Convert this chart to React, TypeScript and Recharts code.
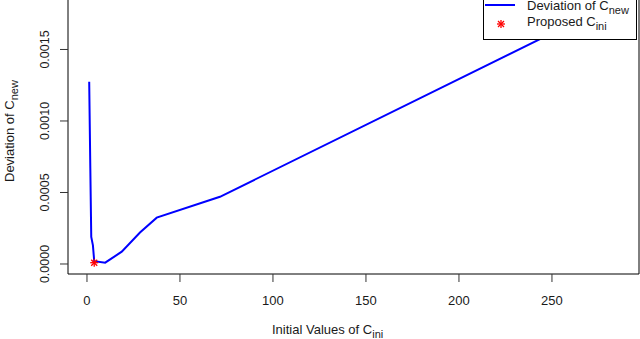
import React from 'react';
import { ComposedChart, Line, Scatter, XAxis, YAxis, Legend } from 'recharts';

// deviation curve
const initValues = [1.2, 1.8, 2.3, 3.2, 3.9, 9.8, 18.7, 28.5, 37.5, 71.5, 290];
const deviations = [0.001275, 0.00067, 0.00019, 0.00013, 0.00002, 0.000009, 0.000086, 0.00022, 0.000324, 0.00047, 0.00187];

// proposed starting value
const proposedX = [3.9];
const proposedY = [0.000009];

const xTicks = [0, 50, 100, 150, 200, 250];
const yTicks = [0, 0.0005, 0.001, 0.0015];

const lineData = initValues.map((x, i) => ({ x, y: deviations[i] }));
const starData = proposedX.map((x, i) => ({ x, y: proposedY[i] }));

const FONT = '"Liberation Sans", Arial, sans-serif';
const INK = '#1a1a1a';

const Asterisk = ({ cx, cy }: any) => (
  <g stroke="#ff0000" strokeWidth={1.3}>
    <line x1={cx - 4} y1={cy} x2={cx + 4} y2={cy} />
    <line x1={cx} y1={cy - 4} x2={cx} y2={cy + 4} />
    <line x1={cx - 3} y1={cy - 3} x2={cx + 3} y2={cy + 3} />
    <line x1={cx - 3} y1={cy + 3} x2={cx + 3} y2={cy - 3} />
  </g>
);

const XTick = ({ x, payload }: any) => (
  <text x={x} y={305} textAnchor="middle" fontSize={13} fontFamily={FONT} fill={INK}>
    {payload.value}
  </text>
);

const YTick = ({ y, payload }: any) => (
  <text
    x={45}
    y={y}
    dy={4.5}
    transform={`rotate(-90, 45, ${y})`}
    textAnchor="middle"
    fontSize={12.5}
    fontFamily={FONT}
    fill={INK}
  >
    {Number(payload.value).toFixed(4)}
  </text>
);

const LegendBox = () => (
  <svg width={156} height={44} style={{ display: 'block' }}>
    <rect x={0.5} y={0.5} width={153} height={40} fill="#fff" stroke="#000" />
    <line x1={2} y1={6} x2={32} y2={6} stroke="#0000ff" strokeWidth={2} />
    <text x={44} y={11} fontSize={13} fontFamily={FONT} fill={INK}>
      Deviation of C<tspan fontSize={11} dy={4}>new</tspan>
    </text>
    <Asterisk cx={18} cy={25} />
    <text x={44} y={27} fontSize={13} fontFamily={FONT} fill={INK}>
      Proposed C<tspan fontSize={11} dy={4}>ini</tspan>
    </text>
  </svg>
);

export default function App() {
  return (
    <div style={{ position: 'absolute', left: 0, top: 0, width: 640, height: 339, background: '#fff' }}>
      <ComposedChart width={640} height={339} margin={{ top: 0, right: 0, bottom: 0, left: 0 }}>
        <XAxis
          type="number"
          dataKey="x"
          domain={[-10.2, 296.8]}
          ticks={xTicks}
          allowDataOverflow
          height={65}
          tickSize={8}
          tick={<XTick />}
          stroke="#000"
          tickLine={{ stroke: '#333' }}
          label={{
            content: () => (
              <text x={272} y={334} fontSize={13} fontFamily={FONT} fill={INK}>
                Initial Values of C<tspan fontSize={11} dy={4}>ini</tspan>
              </text>
            ),
          }}
        />
        <YAxis
          yAxisId="left"
          type="number"
          dataKey="y"
          domain={[-0.00007, 0.001846]}
          ticks={yTicks}
          allowDataOverflow
          width={68}
          tickSize={8}
          tick={<YTick />}
          stroke="#000"
          tickLine={{ stroke: '#333' }}
          label={{
            content: () => (
              <text
                x={14}
                y={182}
                transform="rotate(-90, 14, 182)"
                fontSize={13}
                fontFamily={FONT}
                fill={INK}
              >
                Deviation of C<tspan fontSize={11} dy={4}>new</tspan>
              </text>
            ),
          }}
        />
        <YAxis yAxisId="right" orientation="right" width={1} tick={false} tickLine={false} stroke="#000" />
        <Legend
          layout="horizontal"
          verticalAlign="middle"
          align="center"
          content={() => <LegendBox />}
          wrapperStyle={{ position: 'absolute', left: 483, top: -1, width: 156, height: 44 }}
        />
        <Line
          yAxisId="left"
          data={lineData}
          dataKey="y"
          type="linear"
          stroke="#0000ff"
          strokeWidth={2}
          dot={false}
          isAnimationActive={false}
          legendType="none"
        />
        <Scatter
          yAxisId="left"
          data={starData}
          dataKey="y"
          shape={<Asterisk />}
          isAnimationActive={false}
          legendType="none"
        />
      </ComposedChart>
    </div>
  );
}
